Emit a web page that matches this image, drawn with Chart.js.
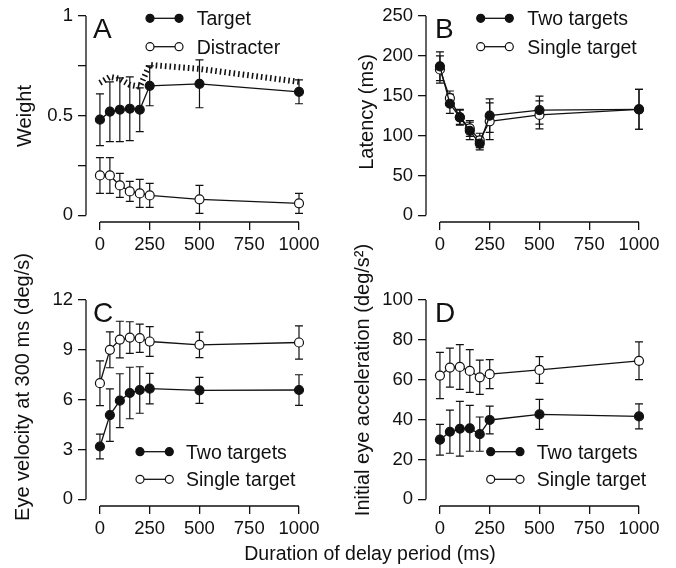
<!DOCTYPE html>
<html>
<head>
<meta charset="utf-8">
<script src="https://cdn.jsdelivr.net/npm/chart.js@4/dist/chart.umd.min.js"></script>
<style>
  html, body { margin: 0; padding: 0; background: #fff; }
  #wrap { position: relative; width: 676px; height: 568px; }
  #wrap canvas { position: absolute; }
  #xlab {
    position: absolute; left: 170px; top: 544px; width: 400px; text-align: center;
    font: 19.5px 'Liberation Sans', Arial, sans-serif; line-height: 1; color: #111;
  }
</style>
</head>
<body>
<div id="wrap">
  <canvas id="cA" width="338" height="262" style="left:0;top:0"></canvas>
  <canvas id="cB" width="338" height="262" style="left:338px;top:0"></canvas>
  <canvas id="cC" width="338" height="328" style="left:0;top:240px"></canvas>
  <canvas id="cD" width="338" height="328" style="left:338px;top:240px"></canvas>
  <div id="xlab">Duration of delay period (ms)</div>
</div>
<script>
// ── datos ──────────────────────────────────────────
const delays = [0, 50, 100, 150, 200, 250, 500, 1000];
const xTicks = [0, 250, 500, 750, 1000];

// A: pesos
const weightTarget        = [0.48, 0.52, 0.53, 0.535, 0.53, 0.65, 0.66, 0.62];
const weightTargetErr     = [0.13, 0.15, 0.16, 0.16, 0.11, 0.10, 0.12, 0.06];
const weightDistracter    = [0.20, 0.20, 0.15, 0.12, 0.11, 0.10, 0.08, 0.06];
const weightDistracterErr = [0.09, 0.09, 0.06, 0.05, 0.07, 0.06, 0.07, 0.05];
const weightPredicted     = [0.665, 0.695, 0.685, 0.655, 0.645, 0.755, 0.735, 0.67];
const yTicksA  = [0, 0.25, 0.5, 0.75, 1];
const yLabelsA = ['0', '', '0.5', '', '1'];

// B: latencia
const latTwo       = [187, 140, 123, 106, 90, 125, 132, 133];
const latTwoErr    = [18, 12, 10, 11, 8, 21, 17.5, 25];
const latSingle    = [183, 147, 123, 109, 94, 118, 126, 133];
const latSingleErr = [17, 9, 9, 10, 9, 23, 17.5, 25];
const yTicksB = [0, 50, 100, 150, 200, 250];

// C: velocidad
const velTwo       = [3.18, 5.07, 5.94, 6.40, 6.58, 6.66, 6.56, 6.58];
const velTwoErr    = [0.75, 1.58, 1.62, 1.55, 1.40, 0.92, 0.78, 0.92];
const velSingle    = [6.99, 9.0, 9.62, 9.74, 9.70, 9.50, 9.30, 9.44];
const velSingleErr = [1.35, 1.08, 1.1, 0.95, 0.85, 0.9, 0.77, 1.0];
const yTicksC = [0, 3, 6, 9, 12];

// D: aceleración
const accTwo       = [29.9, 33.9, 35.4, 35.6, 32.7, 39.8, 42.6, 41.6];
const accTwoErr    = [7.7, 10.8, 13.7, 11.5, 8.6, 7.0, 7.5, 6.3];
const accSingle    = [62.1, 66.1, 66.4, 64.4, 61.2, 62.8, 64.9, 69.5];
const accSingleErr = [11.6, 9.8, 11.2, 10.7, 8.6, 7.3, 6.7, 9.5];
const yTicksD = [0, 20, 40, 60, 80, 100];

const legendAB = ['Target', 'Distracter'];
const legendTS = ['Two targets', 'Single target'];

// ── estilo ─────────────────────────────────────────
const INK  = '#111';
const FONT = "'Liberation Sans', Arial, sans-serif";
Chart.defaults.font.family = FONT;
Chart.defaults.color = INK;

const pts = (ys) => delays.map((x, i) => ({x, y: ys[i]}));

function series(ys, err, filled) {
  return {
    data: pts(ys), err,
    borderColor: INK, borderWidth: 1.3,
    pointRadius: 4.5, pointHoverRadius: 4.5, pointBorderWidth: 1.2,
    pointBorderColor: INK,
    pointBackgroundColor: filled ? INK : '#fff',
    clip: false,
  };
}

// ejes despegados, barras de error, título Y, letra y leyenda
const deco = {
  id: 'deco',
  beforeDatasetsDraw(chart) {
    const {ctx, chartArea: ca, scales: {x, y}} = chart;
    ctx.save();
    ctx.strokeStyle = INK;
    ctx.lineWidth = 1.3;
    ctx.beginPath();
    const yt = y.ticks, xt = x.ticks;
    ctx.moveTo(ca.left, y.getPixelForValue(yt[0].value));
    ctx.lineTo(ca.left, y.getPixelForValue(yt[yt.length - 1].value));
    ctx.moveTo(x.getPixelForValue(xt[0].value), ca.bottom);
    ctx.lineTo(x.getPixelForValue(xt[xt.length - 1].value), ca.bottom);
    ctx.stroke();

    ctx.lineWidth = 1.2;
    chart.data.datasets.forEach(ds => {
      if (!ds.err) return;
      ds.data.forEach((p, i) => {
        const px = x.getPixelForValue(p.x);
        const t = y.getPixelForValue(p.y + ds.err[i]);
        const b = y.getPixelForValue(p.y - ds.err[i]);
        ctx.beginPath();
        ctx.moveTo(px, t); ctx.lineTo(px, b);
        ctx.moveTo(px - 4, t); ctx.lineTo(px + 4, t);
        ctx.moveTo(px - 4, b); ctx.lineTo(px + 4, b);
        ctx.stroke();
      });
    });
    ctx.restore();
  },
  afterDraw(chart, args, o) {
    const {ctx} = chart;
    ctx.save();
    ctx.fillStyle = INK;

    // título del eje Y (posición libre, como en la figura)
    ctx.save();
    ctx.font = '20px ' + FONT;
    ctx.translate(o.titleX, o.titleY);
    ctx.rotate(-Math.PI / 2);
    ctx.textAlign = 'center';
    ctx.textBaseline = 'middle';
    ctx.fillText(o.title, 0, 0);
    ctx.restore();

    ctx.font = '28px ' + FONT;
    ctx.textBaseline = 'alphabetic';
    ctx.fillText(o.letter, o.lx, o.ly);

    ctx.font = '19.5px ' + FONT;
    o.items.forEach((label, i) => {
      const yy = o.ys[i];
      ctx.strokeStyle = INK;
      ctx.lineWidth = 1.3;
      ctx.beginPath();
      ctx.moveTo(o.x1, yy); ctx.lineTo(o.x2, yy);
      ctx.stroke();
      [o.x1, o.x2].forEach(cx => {
        ctx.beginPath();
        ctx.arc(cx, yy, 4, 0, Math.PI * 2);
        ctx.fillStyle = i === 0 ? INK : '#fff';
        ctx.fill();
        ctx.lineWidth = 1.2;
        ctx.stroke();
      });
      ctx.fillStyle = INK;
      ctx.fillText(label, o.tx, yy + 7);
    });
    ctx.restore();
  },
};

function panel(id, c) {
  const axisGrid = {drawOnChartArea: false, drawTicks: true, tickLength: 8, color: INK, lineWidth: 1.3};
  return new Chart(document.getElementById(id), {
    type: 'line',
    data: {datasets: c.datasets},
    plugins: [deco],
    options: {
      responsive: false,
      animation: false,
      events: [],
      layout: {padding: {top: c.padT, right: c.padR, left: 0, bottom: 0}},
      plugins: {
        legend: {display: false},
        tooltip: {enabled: false},
        deco: c.deco,
      },
      scales: {
        x: {
          type: 'linear', min: -70, max: 1000,
          afterBuildTicks: s => { s.ticks = xTicks.map(v => ({value: v})); },
          afterFit: s => { s.height = c.xH; },
          grid: axisGrid,
          border: {display: false},
          ticks: {font: {size: 18.5}, padding: 4, maxRotation: 0, autoSkip: false,
                  callback: v => String(v)},
        },
        y: {
          type: 'linear', min: -c.yMax * 0.0336, max: c.yMax,
          afterBuildTicks: s => { s.ticks = c.yTicks.map(v => ({value: v})); },
          afterFit: s => { s.width = c.yW; },
          grid: axisGrid,
          border: {display: false},
          ticks: {font: {size: 18.5}, padding: 5, autoSkip: false,
                  callback: (v, i) => c.yLabels ? c.yLabels[i] : String(v)},
        },
      },
    },
  });
}

panel('cA', {
  yMax: 1, yTicks: yTicksA, yLabels: yLabelsA, yW: 86, padR: 39, padT: 16, xH: 40,
  datasets: [
    series(weightTarget, weightTargetErr, true),
    series(weightDistracter, weightDistracterErr, false),
    {data: pts(weightPredicted), borderColor: INK, borderWidth: 6, borderDash: [1.6, 3],
     borderCapStyle: 'butt', pointRadius: 0, clip: false},
  ],
  deco: {title: 'Weight', titleX: 25, titleY: 116,
         letter: 'A', lx: 93, ly: 38.3, items: legendAB, x1: 150, x2: 179, tx: 196.7, ys: [18.3, 46.7]},
});

panel('cB', {
  yMax: 250, yTicks: yTicksB, yW: 88, padR: 37, padT: 16, xH: 40,
  datasets: [
    series(latTwo, latTwoErr, true),
    series(latSingle, latSingleErr, false),
  ],
  deco: {title: 'Latency (ms)', titleX: 29, titleY: 112,
         letter: 'B', lx: 97, ly: 38.3, items: legendTS, x1: 142.7, x2: 171.3, tx: 189.3, ys: [18.3, 46.7]},
});

panel('cC', {
  yMax: 12, yTicks: yTicksC, yW: 86, padR: 39, padT: 60, xH: 62,
  datasets: [
    series(velTwo, velTwoErr, true),
    series(velSingle, velSingleErr, false),
  ],
  deco: {title: 'Eye velocity at 300 ms (deg/s)', titleX: 23.3, titleY: 147,
         letter: 'C', lx: 93, ly: 81.7, items: legendTS, x1: 140, x2: 169.3, tx: 186, ys: [211.7, 239.3]},
});

panel('cD', {
  yMax: 100, yTicks: yTicksD, yW: 88, padR: 37, padT: 60, xH: 62,
  datasets: [
    series(accTwo, accTwoErr, true),
    series(accSingle, accSingleErr, false),
  ],
  deco: {title: 'Initial eye acceleration (deg/s²)', titleX: 25.3, titleY: 140,
         letter: 'D', lx: 97, ly: 81.7, items: legendTS, x1: 152.7, x2: 182, tx: 198.7, ys: [211.7, 239.3]},
});
</script>
</body>
</html>
